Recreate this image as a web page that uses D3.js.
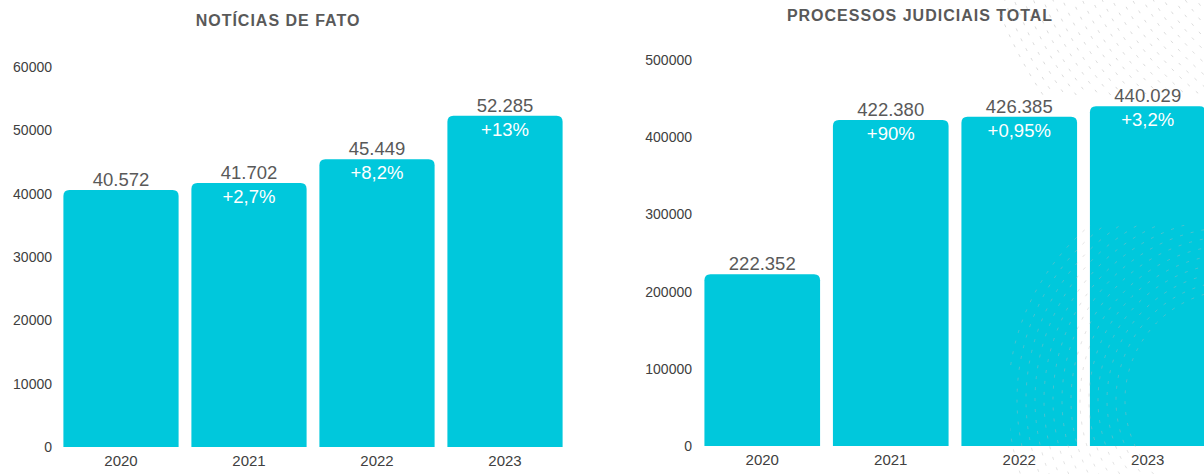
<!DOCTYPE html>
<html lang="pt">
<head>
<meta charset="utf-8">
<title>Notícias de fato / Processos judiciais</title>
<script src="https://d3js.org/d3.v7.min.js"></script>
<style>
	body { margin: 0; background: #ffffff; }
	svg text { font-family: "Liberation Sans", Arial, sans-serif; }
</style>
</head>
<body>
<svg id="chart" width="1204" height="474"></svg>
<script>
// data
const years = ["2020", "2021", "2022", "2023"];
const noticiasValues = [40572, 41702, 45449, 52285];
const noticiasLabels = ["40.572", "41.702", "45.449", "52.285"];
const noticiasGrowth = ["", "+2,7%", "+8,2%", "+13%"];
const noticiasTicks = [0, 10000, 20000, 30000, 40000, 50000, 60000];

const processosValues = [222352, 422380, 426385, 440029];
const processosLabels = ["222.352", "422.380", "426.385", "440.029"];
const processosGrowth = ["", "+90%", "+0,95%", "+3,2%"];
const processosTicks = [0, 100000, 200000, 300000, 400000, 500000];

const barColor = "#00c8dc";
const svg = d3.select("#chart");

// bar with rounded top corners only
function topRoundedBar(x, y, w, h, r) {
	r = Math.min(r, h);
	return "M" + x + "," + (y + h) +
		" L" + x + "," + (y + r) +
		" Q" + x + "," + y + " " + (x + r) + "," + y +
		" L" + (x + w - r) + "," + y +
		" Q" + (x + w) + "," + y + " " + (x + w) + "," + (y + r) +
		" L" + (x + w) + "," + (y + h) + " Z";
}

function drawPanel(opt) {
	let g = svg.append("g");

	let x = d3.scaleBand()
		.domain(years)
		.range(opt.xRange)
		.paddingInner(0.1)
		.paddingOuter(0.05);

	let y = d3.scaleLinear()
		.domain([0, opt.yMax])
		.range([opt.baseY, opt.topY]);

	// title
	g.append("text")
		.attr("x", opt.titleX)
		.attr("y", opt.titleY)
		.attr("text-anchor", "middle")
		.style("font-size", "16px")
		.style("letter-spacing", "1px")
		.style("font-weight", "bold")
		.style("fill", "#595959")
		.text(opt.title);

	// y axis (labels only)
	let yAxis = g.append("g")
		.attr("transform", "translate(" + opt.yLabelX + ",0)")
		.call(d3.axisLeft(y).tickValues(opt.ticks).tickSize(0).tickPadding(0).tickFormat(d3.format("d")));
	yAxis.select(".domain").remove();
	yAxis.selectAll("text")
		.style("font-size", "14px")
		.style("fill", "#404040")
		.style("font-family", "'Liberation Sans', Arial, sans-serif");

	// x axis (labels only)
	let xAxis = g.append("g")
		.attr("transform", "translate(0," + opt.baseY + ")")
		.call(d3.axisBottom(x).tickSize(0).tickPadding(8));
	xAxis.select(".domain").remove();
	xAxis.selectAll("text")
		.style("font-size", "15px")
		.style("fill", "#404040")
		.style("font-family", "'Liberation Sans', Arial, sans-serif");

	// bars
	g.selectAll("path.bar")
		.data(opt.values)
		.enter()
		.append("path")
		.attr("class", "bar")
		.attr("fill", barColor)
		.attr("d", (d, i) => topRoundedBar(x(years[i]), y(d), x.bandwidth(), y(0) - y(d), 6));

	// value labels above bars
	g.selectAll("text.val")
		.data(opt.values)
		.enter()
		.append("text")
		.attr("class", "val")
		.attr("x", (d, i) => x(years[i]) + x.bandwidth() / 2)
		.attr("y", d => y(d) - 4)
		.attr("text-anchor", "middle")
		.style("font-size", "18.5px")
		.style("fill", "#595959")
		.text((d, i) => opt.labels[i]);

	// growth labels inside bars
	g.selectAll("text.growth")
		.data(opt.values)
		.enter()
		.append("text")
		.attr("class", "growth")
		.attr("x", (d, i) => x(years[i]) + x.bandwidth() / 2)
		.attr("y", d => y(d) + 20)
		.attr("text-anchor", "middle")
		.style("font-size", "18.5px")
		.style("fill", "#ffffff")
		.text((d, i) => opt.growth[i]);
}

drawPanel({
	title: "NOTÍCIAS DE FATO", titleX: 278, titleY: 26,
	values: noticiasValues, labels: noticiasLabels, growth: noticiasGrowth,
	ticks: noticiasTicks, yMax: 60000,
	xRange: [57, 569], baseY: 447, topY: 67, yLabelX: 52
});

drawPanel({
	title: "PROCESSOS JUDICIAIS TOTAL", titleX: 920, titleY: 21,
	values: processosValues, labels: processosLabels, growth: processosGrowth,
	ticks: processosTicks, yMax: 500000,
	xRange: [698, 1212], baseY: 446, topY: 60, yLabelX: 692
});

// faint decorative dash pattern (background artwork, top right and bottom right)
let deco = svg.append("g").style("pointer-events", "none");
deco.append("clipPath").attr("id", "clipTop")
	.append("rect").attr("x", 1000).attr("y", 0).attr("width", 204).attr("height", 95);
deco.append("clipPath").attr("id", "clipBottom")
	.append("rect").attr("x", 1010).attr("y", 225).attr("width", 194).attr("height", 249);

let topRings = deco.append("g").attr("clip-path", "url(#clipTop)");
d3.range(230, 420, 9).forEach(r => {
	topRings.append("circle")
		.attr("cx", 1390).attr("cy", -140).attr("r", r)
		.attr("fill", "none")
		.attr("stroke", "#b0b0b0")
		.attr("stroke-opacity", 0.45)
		.attr("stroke-width", 1)
		.attr("stroke-dasharray", "3 8");
});

let bottomRings = deco.append("g").attr("clip-path", "url(#clipBottom)");
d3.range(110, 230, 9).forEach(r => {
	bottomRings.append("circle")
		.attr("cx", 1235).attr("cy", 400).attr("r", r)
		.attr("fill", "none")
		.attr("stroke", "#b8b8b8")
		.attr("stroke-opacity", 0.4)
		.attr("stroke-width", 1)
		.attr("stroke-dasharray", "3 8");
});
</script>
</body>
</html>
